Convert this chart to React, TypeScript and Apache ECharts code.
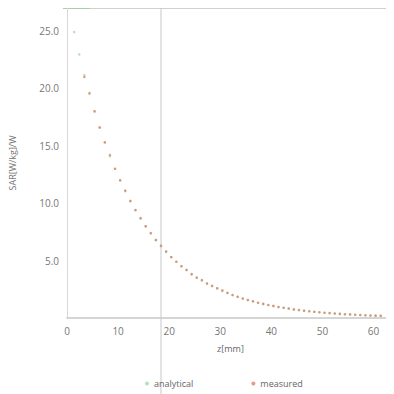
import React, { useEffect, useRef } from "react";
import * as echarts from "echarts";

const zValues = [1.4, 2.4, 3.4, 4.4, 5.4, 6.4, 7.4, 8.4, 9.4, 10.4, 11.4, 12.4, 13.4, 14.4, 15.4, 16.4, 17.4, 18.4, 19.4, 20.4, 21.4, 22.4, 23.4, 24.4, 25.4, 26.4, 27.4, 28.4, 29.4, 30.4, 31.4, 32.4, 33.4, 34.4, 35.4, 36.4, 37.4, 38.4, 39.4, 40.4, 41.4, 42.4, 43.4, 44.4, 45.4, 46.4, 47.4, 48.4, 49.4, 50.4, 51.4, 52.4, 53.4, 54.4, 55.4, 56.4, 57.4, 58.4, 59.4, 60.4, 61.4];
const analytical = [24.9, 22.96, 21.16, 19.51, 17.99, 16.58, 15.29, 14.09, 12.99, 11.98, 11.04, 10.18, 9.39, 8.65, 7.98, 7.35, 6.78, 6.25, 5.76, 5.31, 4.9, 4.52, 4.16, 3.84, 3.54, 3.26, 3.01, 2.77, 2.56, 2.36, 2.17, 2.0, 1.85, 1.7, 1.57, 1.45, 1.33, 1.23, 1.13, 1.05, 0.96, 0.89, 0.82, 0.75, 0.69, 0.64, 0.59, 0.54, 0.5, 0.46, 0.43, 0.39, 0.36, 0.33, 0.31, 0.28, 0.26, 0.24, 0.22, 0.2, 0.19];
const measured = [null, null, 21.0, 19.6, 18.0, 16.6, 15.3, 14.2, 13.0, 12.0, 11.1, 10.2, 9.4, 8.7, 8.0, 7.4, 6.8, 6.3, 5.8, 5.3, 4.9, 4.5, 4.2, 3.8, 3.5, 3.3, 3.0, 2.8, 2.6, 2.4, 2.2, 2.0, 1.85, 1.7, 1.57, 1.45, 1.33, 1.23, 1.13, 1.05, 0.96, 0.89, 0.82, 0.75, 0.69, 0.64, 0.59, 0.54, 0.5, 0.46, 0.43, 0.39, 0.36, 0.33, 0.31, 0.28, 0.26, 0.24, 0.22, 0.2, 0.19];
const yTicks = [5, 10, 15, 20, 25];

export default function App() {
  const ref = useRef<HTMLDivElement>(null);
  useEffect(() => {
    if (!ref.current) return;
    const chart = echarts.init(ref.current, undefined, { renderer: "svg" });
    const font = "Open Sans";
    chart.setOption({
      animation: false,
      textStyle: { fontFamily: font },
      grid: { left: 63, right: 0, top: 8, bottom: 76, containLabel: false },
      legend: {
        data: ["analytical", "measured"],
        left: 140,
        top: 374,
        itemWidth: 4,
        itemHeight: 4,
        itemGap: 58,
        icon: "circle",
        textStyle: { fontSize: 9, color: "#666", fontFamily: font },
      },
      xAxis: {
        type: "value",
        min: 0,
        max: 64,
        interval: 10,
        name: "z[mm]",
        nameLocation: "middle",
        nameGap: 26,
        nameTextStyle: { fontSize: 9, color: "#666" },
        axisLine: { lineStyle: { color: "#c8c8c8", width: 1.5 } },
        axisTick: { show: false },
        splitLine: { show: false },
        axisLabel: {
          fontSize: 10,
          color: "#777",
          margin: 8,
          showMaxLabel: false,
          formatter: (v: number) => (v % 10 === 0 ? String(v) : ""),
        },
      },
      yAxis: {
        type: "value",
        min: 0,
        max: 27,
        interval: 5,
        name: "SAR[W/kg]/W",
        nameLocation: "middle",
        nameGap: 50,
        nameTextStyle: { fontSize: 9, color: "#777" },
        axisLine: { show: true, lineStyle: { color: "#d8d8d8", width: 1 } },
        axisTick: { show: false },
        splitLine: { show: false },
        axisLabel: {
          fontSize: 10,
          color: "#777",
          margin: 8,
          customValues: yTicks,
          formatter: (v: number) => v.toFixed(1),
        },
      },
      graphic: [
        { type: "line", shape: { x1: 63, y1: 8, x2: 394, y2: 8 }, style: { stroke: "#c0c0c0", lineWidth: 1.5 } },
        { type: "line", shape: { x1: 63, y1: 8, x2: 90, y2: 8 }, style: { stroke: "#9ad09a", lineWidth: 1.5 } },
        { type: "line", shape: { x1: 161, y1: 8, x2: 161, y2: 394 }, style: { stroke: "#c8c8c8", lineWidth: 1 } },
      ],
      series: [
        {
          name: "analytical",
          type: "scatter",
          symbolSize: 2.5,
          itemStyle: { color: "#a5d9a5" },
          data: zValues.map((z, i) => [z, analytical[i]]),
        },
        {
          name: "measured",
          type: "scatter",
          symbolSize: 2.5,
          itemStyle: { color: "#d9836f" },
          data: zValues
            .map((z, i) => [z, measured[i]])
            .filter((p) => p[1] !== null),
        },
      ],
    });
    return () => chart.dispose();
  }, []);
  return <div ref={ref} style={{ width: 394, height: 394, marginLeft: -8, marginTop: -8 }} />;
}
